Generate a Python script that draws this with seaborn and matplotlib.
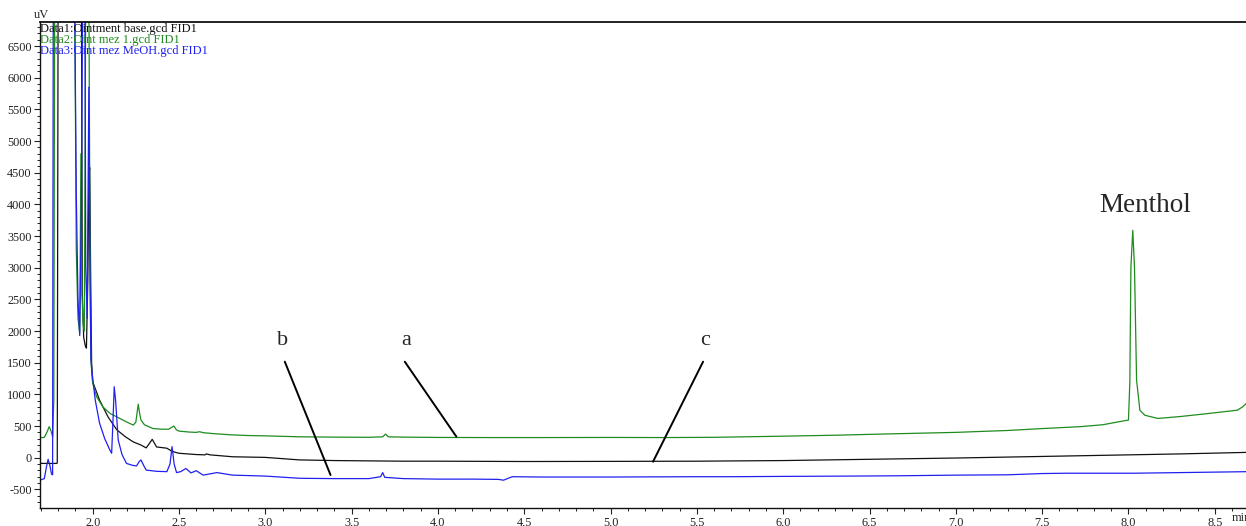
import numpy as np
import pandas as pd
import matplotlib
matplotlib.use("Agg")
import matplotlib.pyplot as plt
from matplotlib.ticker import MultipleLocator, FuncFormatter
import seaborn as sns

# ──────────────────────────────────────────────
# DATOS (leídos del cromatograma)
# ──────────────────────────────────────────────

t_green = [1.70, 1.72, 1.735, 1.748, 1.758, 1.768, 1.775, 1.780, 1.895, 1.900,
           1.905, 1.915, 1.925, 1.932, 1.938, 1.945, 1.952, 1.960, 1.978, 1.984,
           1.990, 2.000, 2.023, 2.060, 2.100, 2.150, 2.200, 2.235, 2.250, 2.264,
           2.272, 2.280, 2.300, 2.350, 2.400, 2.440, 2.470, 2.485, 2.500, 2.560,
           2.600, 2.620, 2.640, 2.700, 2.810, 2.900, 3.000, 3.200, 3.400, 3.600,
           3.680, 3.697, 3.712, 3.800, 4.000, 4.300, 4.600, 5.000, 5.300, 5.600,
           6.000, 6.300, 6.600, 7.000, 7.300, 7.500, 7.720, 7.850, 8.000, 8.008,
           8.014, 8.025, 8.035, 8.047, 8.066, 8.095, 8.170, 8.300, 8.470, 8.630,
           8.660, 8.700]
v_green = [316, 322, 400, 490, 430, 330, 900, 7500, 7500, 5600,
           3300, 2200, 1965, 4800, 2600, 2100, 2000, 7500, 7500, 3600,
           1540, 1180, 960, 800, 700, 630, 560, 515, 560, 845,
           700, 595, 520, 460, 450, 450, 500, 440, 420, 405,
           400, 410, 395, 380, 360, 350, 345, 330, 325, 322,
           330, 373, 330, 325, 320, 318, 318, 320, 318, 322,
           340, 355, 375, 400, 430, 460, 490, 520, 595, 1200,
           3000, 3590, 3000, 1225, 750, 670, 620, 650, 700, 750,
           800, 900]

t_black = [1.70, 1.79, 1.795, 1.800, 1.935, 1.940, 1.948, 1.958, 1.964, 1.972,
           1.978, 1.983, 1.988, 1.994, 2.000, 2.040, 2.090, 2.140, 2.190, 2.235,
           2.280, 2.310, 2.330, 2.345, 2.360, 2.370, 2.430, 2.460, 2.500, 2.600,
           2.650, 2.660, 2.680, 2.810, 2.900, 3.000, 3.100, 3.200, 3.400, 3.600,
           3.800, 4.000, 4.500, 5.000, 5.500, 6.000, 6.500, 7.000, 7.500, 8.000,
           8.300, 8.700]
v_black = [-90, -90, -85, 7500, 7500, 2600, 1900, 1760, 1730, 2800,
           4450, 4580, 3000, 1500, 1200, 910, 640, 440, 330, 250,
           200, 155, 230, 290, 220, 170, 150, 100, 70, 50,
           45, 60, 45, 15, 10, 5, -15, -35, -45, -50,
           -55, -55, -60, -58, -55, -45, -25, -5, 20, 45,
           60, 85]

t_blue = [1.70, 1.72, 1.732, 1.742, 1.752, 1.762, 1.768, 1.772, 1.895, 1.905,
          1.915, 1.925, 1.935, 1.942, 1.955, 1.960, 1.968, 1.978, 1.984, 1.990,
          1.995, 2.015, 2.040, 2.070, 2.100, 2.110, 2.118, 2.125, 2.133, 2.148,
          2.170, 2.196, 2.230, 2.254, 2.270, 2.280, 2.295, 2.310, 2.370, 2.430,
          2.448, 2.460, 2.472, 2.486, 2.510, 2.540, 2.570, 2.600, 2.640, 2.720,
          2.810, 3.000, 3.200, 3.400, 3.600, 3.668, 3.680, 3.692, 3.800, 4.000,
          4.200, 4.350, 4.380, 4.430, 4.600, 5.000, 5.500, 5.700, 6.000, 6.400,
          6.680, 7.000, 7.300, 7.500, 7.640, 8.030, 8.300, 8.700]
v_blue = [-350, -330, -150, -25, -120, -260, -270, 7500, 7500, 4200,
          2500, 1930, 4000, 7500, 7500, 3000, 2200, 5850, 3000, 1570,
          1380, 910, 545, 300, 120, 70, 600, 1120, 900, 280,
          50, -90, -120, -130, -60, -35, -120, -195, -215, -220,
          -100, 175, -100, -235, -220, -170, -240, -205, -275, -235,
          -275, -290, -325, -330, -330, -300, -235, -310, -330, -338,
          -338, -342, -355, -300, -305, -305, -300, -300, -295, -290,
          -285, -275, -270, -250, -245, -245, -235, -220]

legend_labels = ["Data1:Ointment base.gcd FID1",
                 "Data2:Oint mez 1.gcd FID1",
                 "Data3:Oint mez MeOH.gcd FID1"]

COLORS = {"black": "#111111", "green": "#1e8c1e", "blue": "#2020f0"}
SERIF = ["Liberation Serif", "DejaVu Serif"]

# ──────────────────────────────────────────────
# FIGURA
# ──────────────────────────────────────────────

sns.set_theme(style="white")
plt.rcParams["font.family"] = SERIF

fig = plt.figure(figsize=(12.46, 5.26), dpi=100)
ax = fig.add_axes([40 / 1246, 18 / 526, 1210 / 1246, 486 / 526])

series = [(t_black, v_black, "black"), (t_green, v_green, "green"), (t_blue, v_blue, "blue")]
for t, v, c in series:
    df = pd.DataFrame({"t": t, "v": v})
    sns.lineplot(data=df, x="t", y="v", ax=ax, color=COLORS[c], lw=0.9,
                 estimator=None, sort=False)

ax.set_xlim(1.695, 8.704)
ax.set_ylim(-794, 6879)
ax.set_xlabel("")
ax.set_ylabel("")

ax.xaxis.set_major_locator(MultipleLocator(0.5))
ax.xaxis.set_minor_locator(MultipleLocator(0.1))
ax.yaxis.set_major_locator(MultipleLocator(500))
ax.yaxis.set_minor_locator(MultipleLocator(100))
ax.xaxis.set_major_formatter(FuncFormatter(lambda x, p: f"{x:.1f}".replace(".", ",") if x >= 1.99 else ""))
ax.yaxis.set_major_formatter(FuncFormatter(lambda y, p: f"{int(round(y))}" if -600 < y < 6600 else ""))
ax.tick_params(axis="both", which="major", direction="out", length=4, width=0.8,
               labelsize=8.8, colors="#222222", pad=2, bottom=True, left=True)
ax.tick_params(axis="both", which="minor", direction="out", length=2.5, width=0.7,
               bottom=True, left=True, colors="#222222")

for s in ["left", "bottom", "top"]:
    ax.spines[s].set_color("#111111")
    ax.spines[s].set_linewidth(1.0)
ax.spines["top"].set_linewidth(1.3)
ax.spines["right"].set_visible(False)

# leyenda en texto coloreado
for i, (lab, c) in enumerate(zip(legend_labels, ["black", "green", "blue"])):
    ax.text(0.0, 0.998 - i * 0.0225, lab, transform=ax.transAxes, color=COLORS[c],
            fontsize=9, va="top", ha="left", family=SERIF)

fig.text(41 / 1246, 1 - 15 / 526, "uV", fontsize=9, ha="center", va="center", family=SERIF)
fig.text(1232 / 1246, 1 - 518 / 526, "min", fontsize=8.8, ha="left", va="center", family=SERIF)

# anotaciones
ax.text(8.095, 3884, "Menthol", fontsize=19.5, ha="center", va="baseline", family=SERIF)
labels_pos = [("b", 3.101, (3.113, 1516), (3.378, -273)),
              ("a", 3.819, (3.808, 1516), (4.107, 332)),
              ("c", 5.546, (5.536, 1516), (5.246, -63))]
for lab, xt, p0, p1 in labels_pos:
    ax.text(xt, 1779, lab, fontsize=16, ha="center", va="baseline", family=SERIF)
    ax.annotate("", xy=p1, xytext=p0,
                arrowprops=dict(arrowstyle="-", color="black", lw=1.4,
                                shrinkA=0, shrinkB=0))

fig.savefig("out.png", dpi=100)
